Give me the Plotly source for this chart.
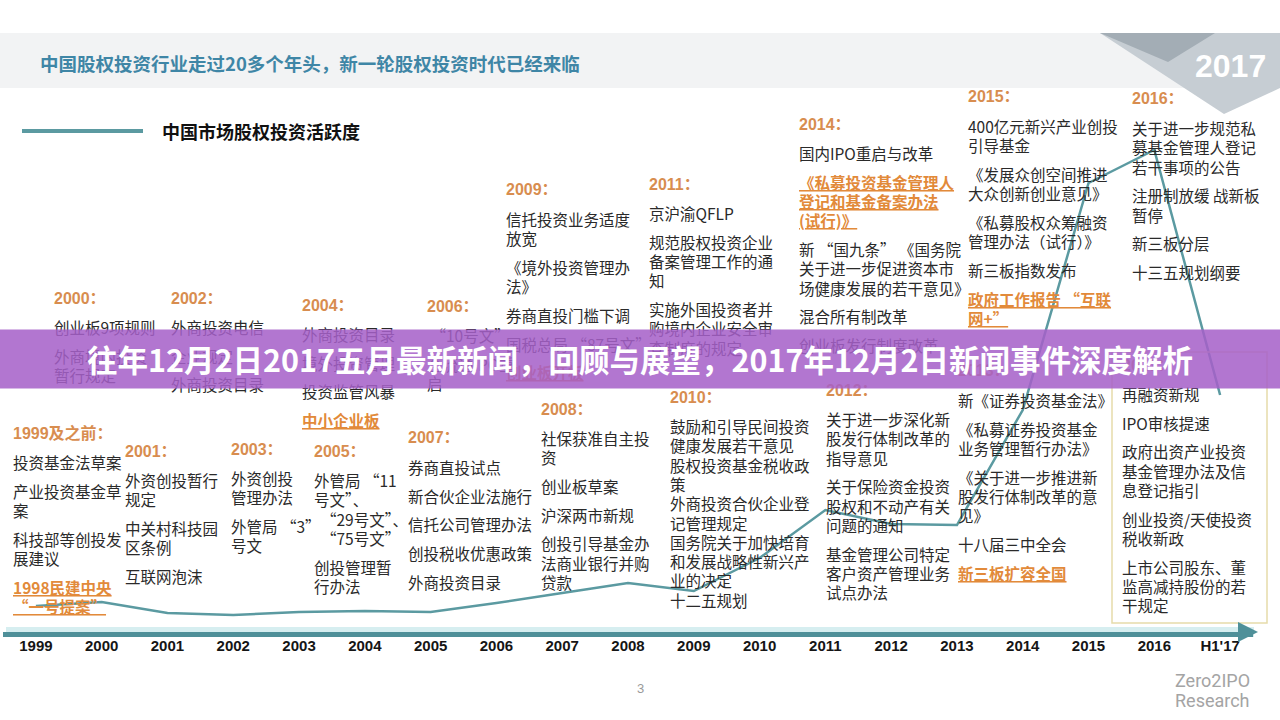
import plotly.graph_objects as go

W, H = 1280, 720
CJK = "Noto Sans CJK SC"

# 活跃度曲线（按年份）
years = ["1999", "2000", "2001", "2002", "2003", "2004", "2005", "2006", "2007", "2008",
         "2009", "2010", "2011", "2012", "2013", "2014", "2015", "2016", "H1'17"]
activity = [26, 30, 19, 17, 20, 21, 20, 29, 39, 49, 41, 74, 122, 108, 107, 222, 449, 482, 237]

# 各年份政策事件
block_years = ["1999", "2000", "2001", "2002", "2003", "2004", "2005", "2006", "2007", "2008",
               "2009", "2010", "2011", "2012", "2013", "2014", "2015", "2016", "2017"]
headings = {y: y for y in block_years}
headings["1999"] = "1999及之前"

events = {
    "1999": ["投资基金法草案", "产业投资基金草\n案", "科技部等创投发\n展建议", "1998民建中央\n“一号提案”"],
    "2000": ["创业板9项规则", "外商境内投资\n暂行规定"],
    "2001": ["外资创投暂行\n规定", "中关村科技园\n区条例", "互联网泡沫"],
    "2002": ["外商投资电信", "企业规定", "外商投资目录"],
    "2003": ["外资创投\n管理办法", "外管局 “3”\n号文"],
    "2004": ["外商投资目录", "境外投资管理", "投资监管风暴", "中小企业板"],
    "2005": ["外管局 “11\n号文”、\n\u00a0\u00a0“29号文”、\n\u00a0\u00a0“75号文”", "创投管理暂\n行办法"],
    "2006": ["\u00a0“10号文”", "全流通IPO重\n启"],
    "2007": ["券商直投试点", "新合伙企业法施行", "信托公司管理办法", "创投税收优惠政策", "外商投资目录"],
    "2008": ["社保获准自主投\n资", "创业板草案", "沪深两市新规", "创投引导基金办\n法商业银行并购\n贷款"],
    "2009": ["信托投资业务适度\n放宽", "《境外投资管理办\n法》", "券商直投门槛下调",
             "国税总局 “87号文”", "创业板开板"],
    "2010": ["鼓励和引导民间投资\n健康发展若干意见", "股权投资基金税收政\n策", "外商投资合伙企业登\n记管理规定",
             "国务院关于加快培育\n和发展战略性新兴产\n业的决定", "十二五规划"],
    "2011": ["京沪渝QFLP", "规范股权投资企业\n备案管理工作的通\n知", "实施外国投资者并\n购境内企业安全审\n查制度的规定"],
    "2012": ["关于进一步深化新\n股发行体制改革的\n指导意见", "关于保险资金投资\n股权和不动产有关\n问题的通知",
             "基金管理公司特定\n客户资产管理业务\n试点办法"],
    "2013": ["新《证券投资基金法》", "《私募证券投资基金\n业务管理暂行办法》",
             "《关于进一步推进新\n股发行体制改革的意\n见》", "十八届三中全会", "新三板扩容全国"],
    "2014": ["国内IPO重启与改革", "《私募投资基金管理人\n登记和基金备案办法\n(试行)》",
             "新 “国九条” 《国务院\n关于进一步促进资本市\n场健康发展的若干意见》", "混合所有制改革", "创业板发行制度改革"],
    "2015": ["400亿元新兴产业创投\n引导基金", "《发展众创空间推进\n大众创新创业意见》",
             "《私募股权众筹融资\n管理办法（试行）》", "新三板指数发布", "政府工作报告 “互联\n网+”"],
    "2016": ["关于进一步规范私\n募基金管理人登记\n若干事项的公告", "注册制放缓 战新板\n暂停", "新三板分层", "十三五规划纲要"],
    "2017": ["再融资新规", "IPO审核提速", "政府出资产业投资\n基金管理办法及信\n息登记指引",
             "创业投资/天使投资\n税收新政", "上市公司股东、董\n监高减持股份的若\n干规定"],
}
highlighted = ["1998民建中央\n“一号提案”", "中小企业板", "创业板开板", "新三板扩容全国",
               "《私募投资基金管理人\n登记和基金备案办法\n(试行)》", "政府工作报告 “互联\n网+”"]

title = "中国股权投资行业走过20多个年头，新一轮股权投资时代已经来临"
subtitle = "中国市场股权投资活跃度"
banner = "往年12月2日2017五月最新新闻，回顾与展望，2017年12月2日新闻事件深度解析"

# 文字块位置（像素：左 x，标题 y）
block_pos = {
    "1999": (11, 433), "2000": (52, 298), "2001": (123, 451), "2002": (169, 298),
    "2003": (229, 449), "2004": (300, 305), "2005": (312, 451), "2006": (425, 306),
    "2007": (406, 438), "2008": (539, 409), "2009": (504, 190), "2010": (668, 397),
    "2011": (647, 184), "2012": (824, 390), "2013": (956, 371), "2014": (797, 124),
    "2015": (966, 97), "2016": (1130, 99), "2017": (1120, 365),
}
tight_blocks = ["2010"]


def px(x, y):
    return x / W, 1 - y / H


ann = []


def text(x, y, s, size, color, family=CJK, anchor="left", **kw):
    fx, fy = px(x, y)
    ann.append(dict(x=fx, y=fy, xref="paper", yref="paper", text=s, showarrow=False,
                    xanchor=anchor, yanchor="middle",
                    font=dict(size=size, color=color, family=family), **kw))


for yr in block_years:
    bx, hy = block_pos[yr]
    text(bx, hy, "<b>" + headings[yr] + "：</b>", 16, "#d88d4f", family="Liberation Sans, " + CJK)
    gap = 19.3 if yr in tight_blocks else 28.7
    cy = hy + 29
    for item in events[yr]:
        for line in item.split("\n"):
            if item in highlighted:
                text(bx, cy, "<b><u>" + line + "</u></b>", 15.5, "#e28a3a")
            else:
                text(bx, cy, line, 15.5, "#2a2a2a")
            cy += 19.3
        cy += gap - 19.3

# header
text(38, 63, "<b>" + title + "</b>", 18.5, "#3f86a6")
text(160, 131, "<b>" + subtitle + "</b>", 18, "#111111")
text(1193, 66, "<b>2017</b>", 32, "white", family="Liberation Sans Narrow, Liberation Sans")
text(640, 688, "3", 13, "#9a9a9a", family="Liberation Sans", anchor="center")
text(1212, 680, "Zero2IPO", 18, "#a4a4a4", family="Roboto", anchor="center")
text(1212, 700, "Research", 18, "#a4a4a4", family="Roboto", anchor="center")

# axis arrow head
ax_x, ax_y = px(1258, 632)
ann.append(dict(x=ax_x, y=ax_y, xref="paper", yref="paper", text="", showarrow=True,
                ax=-16, ay=0, arrowhead=2, arrowsize=1, arrowwidth=4, arrowcolor="#4f9099"))

# banner on top
bx_, by_ = px(640, 359)
ann.append(dict(x=bx_, y=by_, xref="paper", yref="paper", text="<b>" + banner + "</b>",
                showarrow=False, xanchor="center", yanchor="middle", width=1280, height=58,
                borderpad=0, bgcolor="rgba(165,95,200,0.86)",
                font=dict(size=30.5, color="white", family=CJK)))


def rect(x0, y0, x1, y1, **kw):
    a, b = px(x0, y0)
    c, d = px(x1, y1)
    return dict(type="rect", xref="paper", yref="paper", x0=a, y0=b, x1=c, y1=d, **kw)


def poly(points, **kw):
    p = []
    for i, (x, y) in enumerate(points):
        fx, fy = px(x, y)
        p.append(("M" if i == 0 else "L") + f"{fx:.5f},{fy:.5f}")
    return dict(type="path", xref="paper", yref="paper", path=" ".join(p) + " Z", **kw)


def seg(x0, y0, x1, y1, color, width, layer="above"):
    a, b = px(x0, y0)
    c, d = px(x1, y1)
    return dict(type="line", xref="paper", yref="paper", x0=a, y0=b, x1=c, y1=d,
                line=dict(color=color, width=width), layer=layer)


shapes = [
    rect(0, 33, 1280, 88, fillcolor="#f2f3f4", line=dict(width=0), layer="below"),
    poly([(1100, 33), (1280, 33), (1280, 88), (1224, 114)], fillcolor="#c6cdd3",
         line=dict(width=0), layer="below"),
    poly([(1100, 33), (1215, 33), (1168, 62)], fillcolor="#a3adb5", line=dict(width=0), layer="below"),
    seg(22, 131, 143, 131, "#5b9aa1", 4),
    rect(1112, 352, 1267, 623, line=dict(color="#e6dcaa", width=1.5), fillcolor="rgba(0,0,0,0)"),
    seg(6, 632, 1254, 632, "#d6eef0", 10, layer="below"),
]

fig = go.Figure()
fig.add_trace(go.Scatter(x=years, y=activity, mode="lines",
                         line=dict(color="#5b9aa1", width=2.5), showlegend=False,
                         hoverinfo="skip"))

fig.update_layout(
    width=W, height=H,
    margin=dict(l=0, r=0, t=0, b=0),
    paper_bgcolor="white", plot_bgcolor="rgba(0,0,0,0)",
    annotations=ann, shapes=shapes,
    xaxis=dict(domain=[3 / W, 1253 / W], type="category", range=[-0.5, 18.5],
               tickmode="array", tickvals=years, ticktext=["<b>" + y + "</b>" for y in years],
               tickfont=dict(family="Liberation Sans Narrow, Liberation Sans", size=15, color="#151515"),
               showline=True, linecolor="#4f9099", linewidth=5, showgrid=False, zeroline=False,
               ticks="", ticklabelstandoff=-4),
    yaxis=dict(domain=[1 - 632 / H, 1 - 132 / H], range=[0, 500], visible=False),
)

fig.write_html("out.html", config={"displayModeBar": False},
               post_script="document.body.style.margin='0';")
